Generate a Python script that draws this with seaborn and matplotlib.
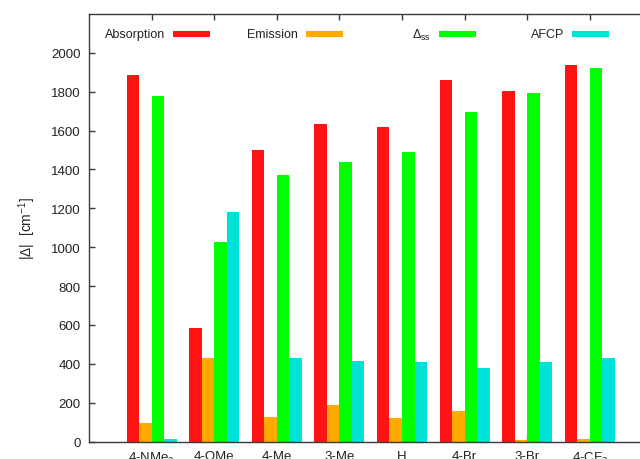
import matplotlib
matplotlib.use("Agg")
import matplotlib.pyplot as plt
import seaborn as sns
import pandas as pd

# Substituents (x categories)
categories = ["4-NMe$_\\mathregular{2}$", "4-OMe", "4-Me", "3-Me", "H",
              "4-Br", "3-Br", "4-CF$_\\mathregular{3}$"]

# Shift magnitudes |Δ| in cm^-1
absorption = [1887, 585, 1502, 1633, 1620, 1862, 1803, 1938]
emission = [95, 430, 124, 187, 120, 156, 6, 12]
delta_ss = [1780, 1025, 1370, 1437, 1492, 1698, 1794, 1923]
afcp = [15, 1181, 432, 415, 407, 380, 407, 429]

series_names = ["Absorption", "Emission", "$\\Delta_\\mathregular{ss}$", "AFCP"]
series_colors = ["#ff1414", "#ffaa00", "#00ff00", "#00e1d8"]

sns.set_theme(style="white")
plt.rcParams["font.family"] = ["Liberation Sans", "DejaVu Sans"]
plt.rcParams["mathtext.fontset"] = "custom"
plt.rcParams["mathtext.rm"] = "Liberation Sans"
plt.rcParams["mathtext.it"] = "Liberation Sans:italic"
plt.rcParams["mathtext.default"] = "regular"

rows = []
for name, vals in zip(series_names, [absorption, emission, delta_ss, afcp]):
    for cat, v in zip(categories, vals):
        rows.append({"substituent": cat, "series": name, "value": v})
df = pd.DataFrame(rows)

fig = plt.figure(figsize=(6.4, 4.6), dpi=100)
W, H = 640, 460
left_px, right_px, top_px, bottom_px = 89, 652.4, 15, 442.5
ax = fig.add_axes([left_px / W, (H - bottom_px) / H,
                   (right_px - left_px) / W, (bottom_px - top_px) / H])

sns.barplot(data=df, x="substituent", y="value", hue="series",
            order=categories, hue_order=series_names,
            palette=series_colors, width=0.8, dodge=True,
            linewidth=0, saturation=1, legend=False, ax=ax)

ax.set_xlim(-1, 8)
ax.set_ylim(0, 2200)
ax.set_yticks(range(0, 2001, 200))
ax.set_axisbelow(True)

ax.set_xlabel("")
ax.set_ylabel("|Δ|  [cm$^{\\mathregular{-1}}$]", fontsize=10)
ax.yaxis.set_label_coords((38 - left_px) / (right_px - left_px), 0.5)

for side in ["left", "right", "top", "bottom"]:
    ax.spines[side].set_color("#3a3a3a")
    ax.spines[side].set_linewidth(1.0)

ax.tick_params(axis="x", which="major", direction="in", top=True, bottom=True,
               length=4, width=1, color="#3a3a3a", labelsize=9.5, pad=6)
ax.tick_params(axis="y", which="major", direction="in", left=True, right=True,
               length=4, width=1, color="#3a3a3a", labelsize=9.5, pad=6)
for lab in ax.get_xticklabels() + ax.get_yticklabels():
    lab.set_color("#222222")

# Column-style key along the top: right-aligned text followed by a colour sample
span = right_px - left_px
key_y = (bottom_px - 35) / (bottom_px - top_px)
for i, (name, color) in enumerate(zip(series_names, series_colors)):
    end_px = 210 + 133 * i
    start_px = end_px - 37
    ax.plot([(start_px - left_px) / span, (end_px - left_px) / span],
            [key_y, key_y], transform=ax.transAxes, color=color,
            linewidth=4.4, solid_capstyle="butt", clip_on=False)
    ax.text((start_px - 8 - left_px) / span, key_y, name,
            transform=ax.transAxes, ha="right", va="center",
            fontsize=9, color="#222222")

fig.savefig("out.png", dpi=100)
